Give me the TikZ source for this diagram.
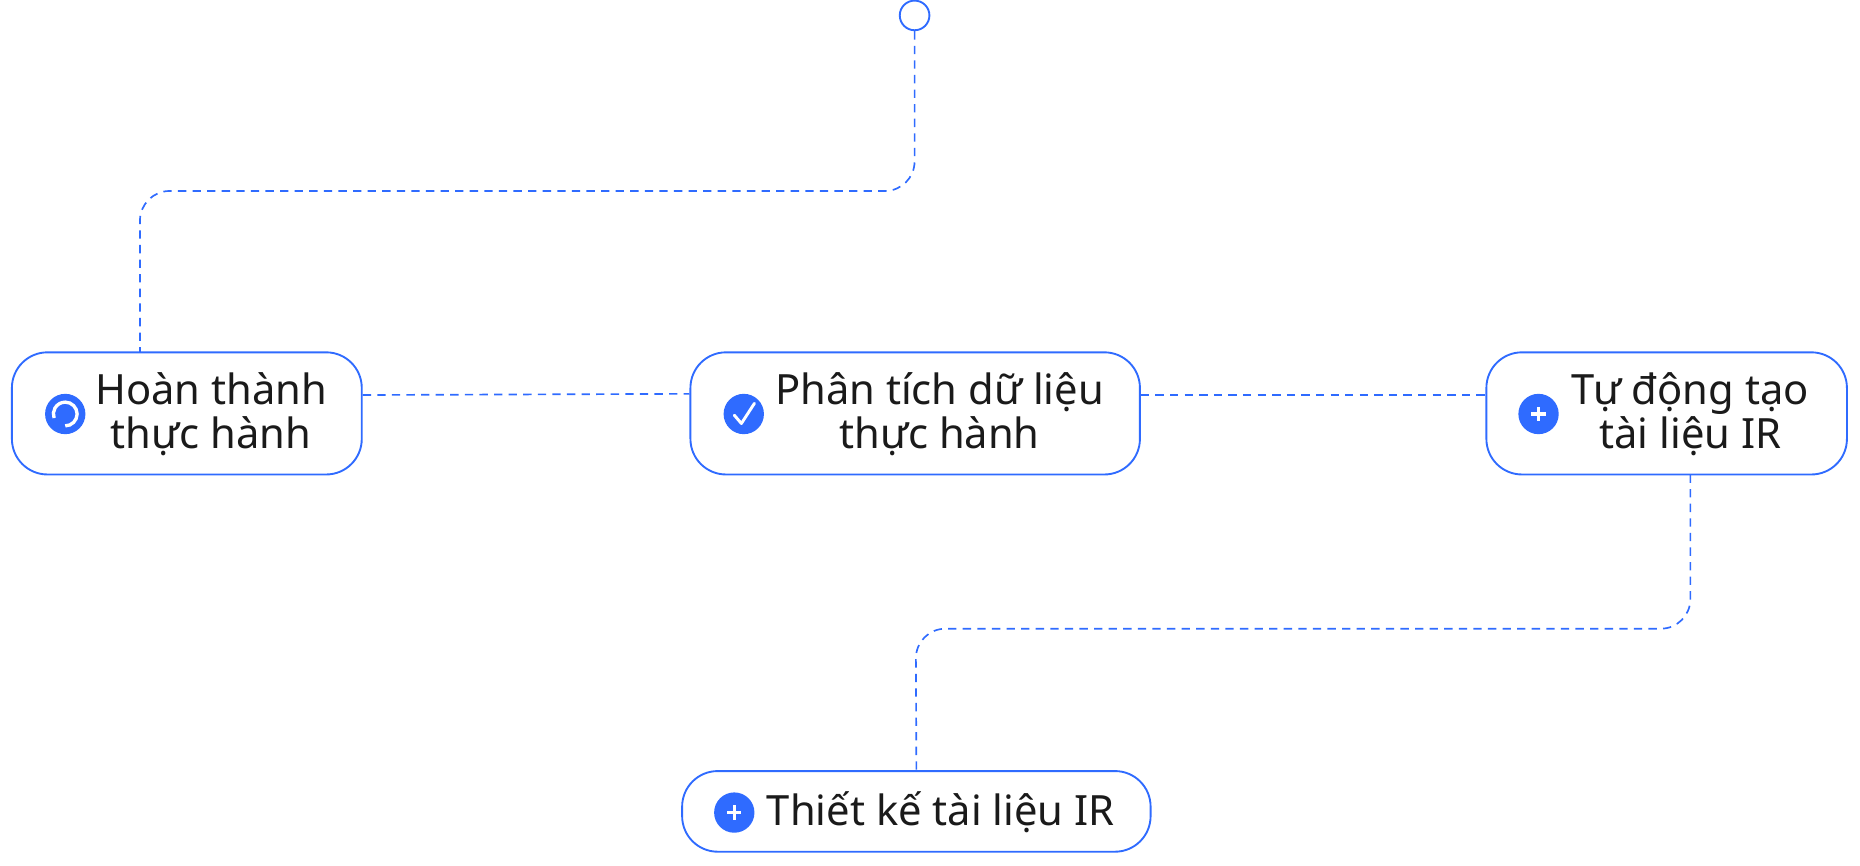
\documentclass[tikz,border=0pt]{standalone}
\usepackage{fontspec}
\setmainfont{Noto Sans}
\definecolor{bl}{HTML}{2F6BFF}
\definecolor{tx}{HTML}{1A1A1A}
\begin{document}
\begin{tikzpicture}[x=0.02cm,y=-0.02cm,
  box/.style={draw=bl,line width=0.9pt,fill=white,rounded corners=0.6cm,inner sep=0pt},
  lbl/.style={text=tx,font=\fontsize{20}{21}\selectfont,align=center},
  conn/.style={draw=bl,line width=0.8pt,dash pattern=on 4pt off 3pt,rounded corners=0.5cm},
  ico/.style={circle,fill=bl,minimum size=0.68cm,inner sep=0pt}]
\useasboundingbox (0,0) rectangle (1568,730);
\node[circle,draw=bl,line width=0.9pt,fill=white,minimum size=0.5cm,inner sep=0pt] (top) at (771,13) {};
\node[box,minimum width=5.9cm,minimum height=2.06cm] (n1) at (157.5,348.5) {};
\node[box,minimum width=7.58cm,minimum height=2.06cm] (n2) at (771.5,348.5) {};
\node[box,minimum width=6.08cm,minimum height=2.06cm] (n3) at (1405,348.5) {};
\node[box,minimum width=7.9cm,minimum height=1.36cm] (n4) at (772.5,684) {};
\node[lbl] (t1) at (178,349) {Hoàn thành\\thực hành};
\node[lbl] (t2) at (792,349) {Phân tích dữ liệu\\thực hành};
\node[lbl] (t3) at (1425,349) {Tự động tạo\\tài liệu IR};
\node[lbl] (t4) at (793,685) {Thiết kế tài liệu IR};
\node[ico] (i1) at (55,349) {};
\draw[white,line width=1.6pt] (55,349) ++(90:10) arc (90:-200:10);
\node[ico] (i2) at (627,349) {};
\draw[white,line width=1.4pt,line cap=round,line join=round] (619,350) -- (625,357) -- (636,340);
\node[ico] (i3) at (1297,349) {};
\draw[white,line width=1.6pt] (1291,349) -- (1303,349) (1297,343) -- (1297,355);
\node[ico] (i4) at (619,685) {};
\draw[white,line width=1.6pt] (613,685) -- (625,685) (619,679) -- (619,691);
\draw[conn] (top.south) -- (771,161) -- (118,161) -- (118,297);
\draw[conn] (n1.east |- 0,333) -- (n2.west |- 0,332);
\draw[conn] (n2.east |- 0,333) -- (n3.west |- 0,333);
\draw[conn] (1425,400) -- (1425,530) -- (772,530) -- (n4.north);
\end{tikzpicture}
\end{document}
